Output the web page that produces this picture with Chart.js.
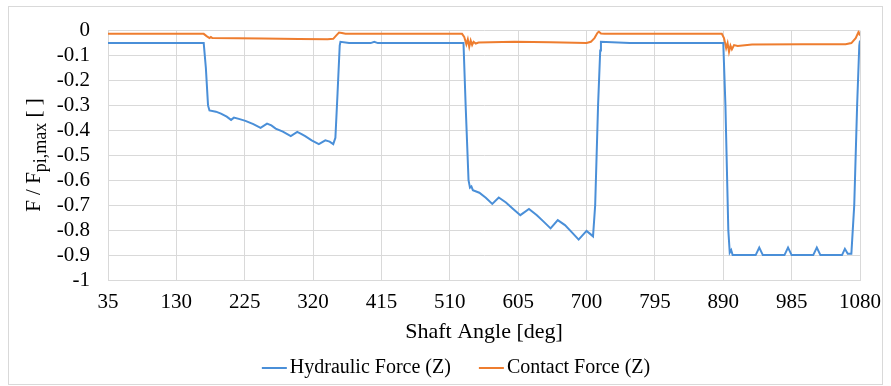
<!DOCTYPE html>
<html>
<head>
<meta charset="utf-8">
<script src="https://cdn.jsdelivr.net/npm/chart.js@4"></script>
<style>
  html, body { margin: 0; padding: 0; background: #fff; }
  #wrap { width: 891px; height: 386px; }
</style>
</head>
<body>
<div id="wrap"><canvas id="canvas" width="891" height="386"></canvas></div>
<script>
// shaft angle ticks + y ticks
const xTicks = [35, 130, 225, 320, 415, 510, 605, 700, 795, 890, 985, 1080];
const yTicks = [0, -0.1, -0.2, -0.3, -0.4, -0.5, -0.6, -0.7, -0.8, -0.9, -1];
const yTickLabels = ['0', '-0.1', '-0.2', '-0.3', '-0.4', '-0.5', '-0.6', '-0.7', '-0.8', '-0.9', '-1'];

// Hydraulic Force (Z)
const hydraulicAngle = [35, 100, 168, 171, 174, 176, 185, 192, 200, 206, 210, 218, 226, 237, 247, 256, 262, 268, 278, 289, 298, 304, 309, 318, 328, 337, 343, 348, 351, 354, 357, 358, 370, 400, 405, 410, 529,
    532, 536, 538, 540, 542, 551, 560, 569, 578, 588, 598, 608, 620, 631, 640, 650, 660, 670, 680, 689, 700, 705, 709, 712, 716, 719, 720, 760, 890,
    893, 897, 899, 901, 903, 910, 935, 940, 945, 975, 980, 985, 1015, 1020, 1025, 1055, 1059, 1063, 1068, 1072, 1076, 1079, 1080];
const hydraulicForce = [-0.05, -0.05, -0.05, -0.15, -0.30, -0.32, -0.325, -0.333, -0.345, -0.358, -0.349, -0.355, -0.362, -0.375, -0.39, -0.373, -0.38, -0.393, -0.405, -0.423, -0.406, -0.415, -0.423, -0.44, -0.455, -0.44, -0.445, -0.455, -0.43, -0.25, -0.06, -0.045, -0.05, -0.05, -0.045, -0.05, -0.05,
    -0.3, -0.6, -0.63, -0.625, -0.64, -0.65, -0.67, -0.695, -0.669, -0.689, -0.715, -0.74, -0.715, -0.74, -0.765, -0.793, -0.76, -0.78, -0.81, -0.838, -0.803, -0.815, -0.825, -0.7, -0.3, -0.08, -0.045, -0.05, -0.05,
    -0.3, -0.8, -0.89, -0.88, -0.9, -0.9, -0.9, -0.87, -0.9, -0.9, -0.87, -0.9, -0.9, -0.87, -0.9, -0.9, -0.875, -0.895, -0.895, -0.7, -0.3, -0.06, -0.04];

// Contact Force (Z)
const contactAngle = [35, 168, 172, 176, 178, 180, 250, 300, 340, 348, 352, 356, 360, 365, 527,
    530, 533, 535, 537, 539, 541, 543, 546, 550, 600, 650, 700, 706, 711, 715, 717, 720, 725, 888,
    891, 894, 896, 898, 900, 902, 905, 910, 930, 1000, 1060, 1068, 1074, 1078, 1080];
const contactForce = [-0.013, -0.013, -0.022, -0.03, -0.026, -0.03, -0.032, -0.034, -0.035, -0.033, -0.02, -0.008, -0.01, -0.013, -0.013,
    -0.025, -0.055, -0.035, -0.065, -0.04, -0.058, -0.045, -0.052, -0.048, -0.045, -0.047, -0.05, -0.045, -0.03, -0.01, -0.004, -0.012, -0.013, -0.013,
    -0.03, -0.07, -0.05, -0.085, -0.06, -0.075, -0.058, -0.062, -0.056, -0.055, -0.055, -0.05, -0.03, -0.005, -0.02];

const blue = '#4a8fd8';
const orange = '#ee7d2f';
const gridColor = '#d9d9d9';
const serif = "'Liberation Serif', 'Times New Roman', serif";

const toPoints = (xs, ys) => xs.map((x, i) => ({ x, y: ys[i] }));

// outer frame
const framePlugin = {
    id: 'frame',
    beforeDraw: (chart) => {
        const ctx = chart.ctx;
        ctx.save();
        ctx.strokeStyle = gridColor;
        ctx.lineWidth = 1;
        ctx.strokeRect(8.5, 6.5, 874, 378);
        ctx.restore();
    },
};

// y title with subscript: F / F_pi,max [ ]
const yTitlePlugin = {
    id: 'yTitle',
    afterDraw: (chart) => {
        const ctx = chart.ctx;
        const main = 'F / F';
        const sub = 'pi,max';
        const tail = ' [ ]';
        ctx.save();
        ctx.fillStyle = '#000';
        ctx.textBaseline = 'alphabetic';
        ctx.font = '21px ' + serif;
        const w1 = ctx.measureText(main).width;
        const w3 = ctx.measureText(tail).width;
        ctx.font = '18px ' + serif;
        const w2 = ctx.measureText(sub).width;
        const total = w1 + w2 + w3;
        ctx.translate(40, 155);
        ctx.rotate(-Math.PI / 2);
        let x = -total / 2;
        ctx.font = '21px ' + serif;
        ctx.fillText(main, x, 0);
        x += w1;
        ctx.font = '18px ' + serif;
        ctx.fillText(sub, x, 6);
        x += w2;
        ctx.font = '21px ' + serif;
        ctx.fillText(tail, x, 0);
        ctx.restore();
    },
};

// legend like the Excel one: short line, small gap, text
const legendPlugin = {
    id: 'excelLegend',
    afterDraw: (chart) => {
        const ctx = chart.ctx;
        const lineLen = 25;
        const gap = 3;
        const between = 28;
        ctx.save();
        ctx.font = '20px ' + serif;
        const items = chart.data.datasets.map(ds => ({
            text: ds.label,
            color: ds.borderColor,
            w: ctx.measureText(ds.label).width,
        }));
        const total = items.reduce((s, it) => s + lineLen + gap + it.w, 0) + between * (items.length - 1);
        let x = 456 - total / 2;
        const y = 368;
        ctx.textBaseline = 'middle';
        ctx.fillStyle = '#000';
        items.forEach(it => {
            ctx.strokeStyle = it.color;
            ctx.lineWidth = 2;
            ctx.beginPath();
            ctx.moveTo(x, y);
            ctx.lineTo(x + lineLen, y);
            ctx.stroke();
            x += lineLen + gap;
            ctx.fillText(it.text, x, y);
            x += it.w + between;
        });
        ctx.restore();
    },
};

const chart = new Chart(document.getElementById('canvas'), {
    type: 'line',
    data: {
        datasets: [
            {
                label: 'Hydraulic Force (Z)',
                data: toPoints(hydraulicAngle, hydraulicForce),
                borderColor: blue,
                backgroundColor: blue,
                borderWidth: 2,
                pointRadius: 0,
                tension: 0,
            },
            {
                label: 'Contact Force (Z)',
                data: toPoints(contactAngle, contactForce),
                borderColor: orange,
                backgroundColor: orange,
                borderWidth: 2,
                pointRadius: 0,
                tension: 0,
            },
        ],
    },
    plugins: [framePlugin, yTitlePlugin, legendPlugin],
    options: {
        responsive: false,
        animation: false,
        layout: {
            padding: { left: 8, right: 26, top: 23, bottom: 41 },
        },
        plugins: {
            tooltip: { enabled: false },
            legend: { display: false },
        },
        scales: {
            x: {
                type: 'linear',
                min: 35,
                max: 1080,
                afterBuildTicks: (scale) => {
                    scale.ticks = xTicks.map(v => ({ value: v }));
                },
                afterFit: (scale) => {
                    scale.height = 65;
                },
                ticks: {
                    font: { family: serif, size: 21 },
                    color: '#000',
                    padding: 10,
                    maxRotation: 0,
                    autoSkip: false,
                    callback: (v) => String(v),
                },
                grid: { color: gridColor, drawTicks: false },
                border: { color: gridColor },
                title: {
                    display: true,
                    text: 'Shaft Angle [deg]',
                    font: { family: serif, size: 22 },
                    color: '#000',
                    padding: { top: 2, bottom: 0 },
                },
            },
            y: {
                min: -1,
                max: 0,
                afterBuildTicks: (scale) => {
                    scale.ticks = yTicks.map(v => ({ value: v }));
                },
                afterFit: (scale) => {
                    scale.width = 100;
                },
                ticks: {
                    font: { family: serif, size: 21 },
                    color: '#000',
                    padding: 18,
                    autoSkip: false,
                    callback: (v, i) => yTickLabels[i],
                },
                grid: { color: gridColor, drawTicks: false },
                border: { color: gridColor },
            },
        },
    },
});
</script>
</body>
</html>
